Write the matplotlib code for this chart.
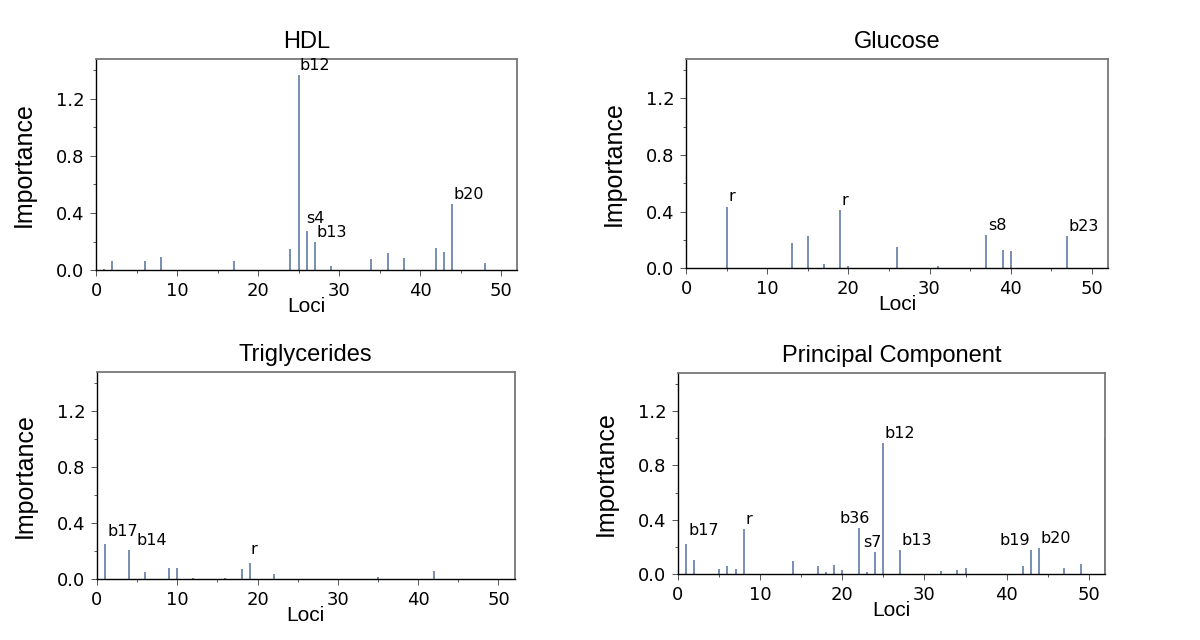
import matplotlib
matplotlib.use('Agg')
import matplotlib.pyplot as plt
from matplotlib.ticker import MultipleLocator

plt.rcParams['font.family'] = ['Liberation Sans', 'DejaVu Sans']

# HDL
hdl_loci = [1, 2, 6, 8, 17, 24, 25, 26, 27, 29, 34, 36, 38, 42, 43, 44, 48]
hdl_imp = [0.01, 0.063, 0.065, 0.089, 0.065, 0.15, 1.365, 0.273, 0.198, 0.028,
           0.079, 0.119, 0.086, 0.156, 0.128, 0.46, 0.049]
hdl_lab_loci = [25, 26, 27, 44]
hdl_lab_text = ['b12', 's4', 'b13', 'b20']

# Glucose
glu_loci = [5, 13, 15, 17, 19, 20, 26, 31, 37, 39, 40, 47]
glu_imp = [0.436, 0.181, 0.224, 0.029, 0.41, 0.017, 0.148, 0.012, 0.231,
           0.131, 0.124, 0.224]
glu_lab_loci = [5, 19, 37, 47]
glu_lab_text = ['r', 'r', 's8', 'b23']

# Triglycerides
tri_loci = [1, 4, 6, 9, 10, 12, 16, 18, 19, 22, 35, 42]
tri_imp = [0.25, 0.205, 0.048, 0.076, 0.076, 0.007, 0.01, 0.069, 0.117,
           0.038, 0.012, 0.055]
tri_lab_loci = [1, 4, 19]
tri_lab_text = ['b17', 'b14', 'r']

# Principal Component
pc_loci = [1, 2, 5, 6, 7, 8, 14, 17, 18, 19, 20, 22, 23, 24, 25, 27, 32, 34,
           35, 42, 43, 44, 47, 49, 52]
pc_imp = [0.222, 0.101, 0.04, 0.059, 0.04, 0.331, 0.094, 0.062, 0.015, 0.067,
          0.032, 0.338, 0.017, 0.163, 0.963, 0.18, 0.022, 0.032, 0.044, 0.059,
          0.178, 0.195, 0.042, 0.074, 1.005]
pc_lab_loci = [1, 8, 22, 24, 25, 27, 43, 44]
pc_lab_text = ['b17', 'r', 'b36', 's7', 'b12', 'b13', 'b19', 'b20']

panels = [
    ('HDL', hdl_loci, hdl_imp, hdl_lab_loci, hdl_lab_text,
     [0.080, 0.578, 0.351, 0.330]),
    ('Glucose', glu_loci, glu_imp, glu_lab_loci, glu_lab_text,
     [0.5717, 0.581, 0.3517, 0.327]),
    ('Triglycerides', tri_loci, tri_imp, tri_lab_loci, tri_lab_text,
     [0.0808, 0.0953, 0.348, 0.323]),
    ('Principal Component', pc_loci, pc_imp, pc_lab_loci, pc_lab_text,
     [0.565, 0.103, 0.356, 0.314]),
]

# label placement tweaks (alignment, x / y offset in points)
label_style = {
    ('HDL', 's4'): ('left', 0, 4),
    ('Triglycerides', 'b14'): ('left', 5, 1.5),
    ('Triglycerides', 'b17'): ('left', 2, 4),
    ('Triglycerides', 'r'): ('left', 1, 4),
    ('Principal Component', 'b17'): ('left', 2, 4),
    ('Principal Component', 'b36'): ('center', -3, 1.5),
    ('Principal Component', 's7'): ('center', -2, 1.5),
    ('Principal Component', 'b19'): ('right', -1, 1.5),
}

stem_color = '#52709f'
fig = plt.figure(figsize=(12.0, 6.4), dpi=100)

for title, loci, imp, lab_loci, lab_text, rect in panels:
    ax = fig.add_axes(rect)
    ax.vlines(loci, 0, imp, color=stem_color, linewidth=1.1)

    for x, txt in zip(lab_loci, lab_text):
        y = imp[loci.index(x)]
        ha, dx, dy = label_style.get((title, txt), ('left', 1, 1.5))
        ax.annotate(txt, (x, y), xytext=(dx, dy), textcoords='offset points',
                    ha=ha, va='bottom', fontsize=11.5, family='DejaVu Sans')

    ax.set_xlim(0, 52)
    ax.set_ylim(0, 1.48)
    ax.xaxis.set_major_locator(MultipleLocator(10))
    ax.xaxis.set_minor_locator(MultipleLocator(5))
    ax.yaxis.set_major_locator(MultipleLocator(0.4))
    ax.yaxis.set_minor_locator(MultipleLocator(0.2))
    ax.yaxis.set_major_formatter(plt.FormatStrFormatter('%.1f'))
    ax.tick_params(which='major', length=4.5, width=0.7, color='#555555',
                   labelsize=13, pad=4)
    ax.tick_params(which='minor', length=2.5, width=0.7, color='#555555')
    for lbl in ax.get_xticklabels() + ax.get_yticklabels():
        lbl.set_family('DejaVu Sans')

    for side in ['left', 'bottom']:
        ax.spines[side].set_color('black')
        ax.spines[side].set_linewidth(1.0)
    for side in ['top', 'right']:
        ax.spines[side].set_color('#777777')
        ax.spines[side].set_linewidth(1.3)

    ax.set_title(title, fontsize=17, pad=8)
    ax.set_xlabel('Loci', fontsize=15, labelpad=-2)
    ax.set_ylabel('Importance', fontsize=18, labelpad=14)

fig.savefig('out.png', dpi=100)
